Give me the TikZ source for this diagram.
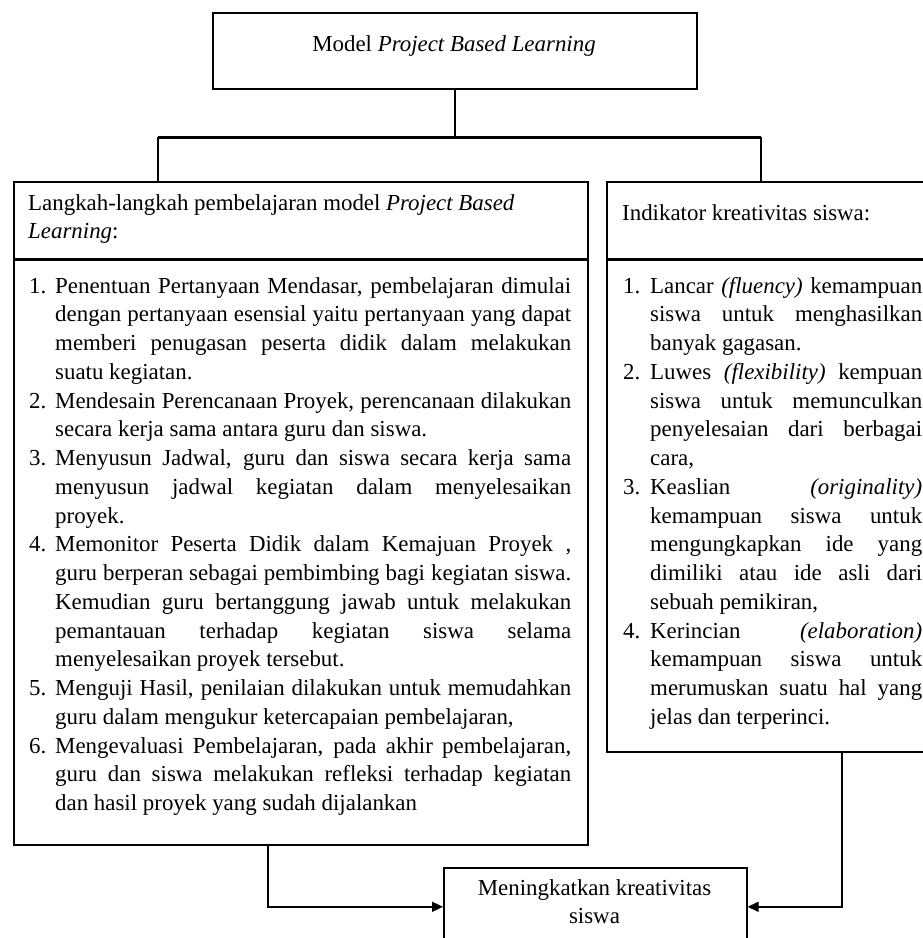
\documentclass[tikz,border=0pt]{standalone}
\usepackage{fontspec}
\setmainfont{Liberation Serif}
\usetikzlibrary{arrows.meta}
\newcommand\Lj[1]{\makebox[516pt][s]{#1}}
\newcommand\Ll[1]{\makebox[516pt][l]{#1}}
\newcommand\Ln[1]{\makebox[26pt][l]{#1}}
\newcommand\Li{\hspace*{26pt}}
\newcommand\Rj[1]{\makebox[272pt][s]{#1}}
\newcommand\Rl[1]{\makebox[272pt][l]{#1}}
\newcommand\Rn[1]{\makebox[27pt][l]{#1}}
\newcommand\Ri{\hspace*{27pt}}
\tikzset{
  box/.style={draw, line width=1.6pt, inner sep=0pt, anchor=north west},
  txt/.style={inner sep=0pt, font=\fontsize{22.9}{28.75}\selectfont},
  conn/.style={line width=1.6pt},
  thickconn/.style={line width=3pt},
  divider/.style={line width=3pt},
  arr/.style={line width=1.6pt, -{Triangle[length=11pt,width=10pt]}}
}
\begin{document}
\begin{tikzpicture}[x=1pt,y=-1pt]
\useasboundingbox (0,0) rectangle (923,938);
\fill[white] (0,0) rectangle (923,938);
\clip (0,0) rectangle (923,938);

% boxes
\node[box, minimum width=484pt, minimum height=76pt] (top) at (212,12) {};
\node[box, minimum width=574pt, minimum height=77pt] (lhead) at (13,181) {};
\node[box, minimum width=574pt, minimum height=586pt] (lbody) at (13,258) {};
\node[box, minimum width=330pt, minimum height=77pt] (rhead) at (606,181) {};
\node[box, minimum width=330pt, minimum height=493pt] (rbody) at (606,258) {};
\node[box, minimum width=303pt, minimum height=78pt] (goal) at (443,867) {};

\draw[divider] (lhead.south west) -- (lhead.south east);
\draw[divider] (rhead.south west) -- (rhead.south east);

% texts (multi-line nodes: base = baseline of the last line)
\node[txt, anchor=base] (toptxt) at (454,51) {Model \textit{Project Based Learning}};
\node[txt, anchor=base west, align=left] (lheadtxt) at (28,238.75)
  {Langkah-langkah pembelajaran model \textit{Project Based}\\ \textit{Learning}:};
\node[txt, anchor=base west] (rheadtxt) at (622,220) {Indikator kreativitas siswa:};

\node[txt, anchor=base west, align=left] (lbodytxt) at (29,810.5) {%
\Ln{1.}\Lj{Penentuan Pertanyaan Mendasar, pembelajaran dimulai}\\
\Li\Lj{dengan pertanyaan esensial yaitu pertanyaan yang dapat}\\
\Li\Lj{memberi penugasan peserta didik dalam melakukan}\\
\Li\Ll{suatu kegiatan.}\\
\Ln{2.}\Lj{Mendesain Perencanaan Proyek, perencanaan dilakukan}\\
\Li\Ll{secara kerja sama antara guru dan siswa.}\\
\Ln{3.}\Lj{Menyusun Jadwal, guru dan siswa secara kerja sama}\\
\Li\Lj{menyusun jadwal kegiatan dalam menyelesaikan}\\
\Li\Ll{proyek.}\\
\Ln{4.}\Lj{Memonitor Peserta Didik dalam Kemajuan Proyek ,}\\
\Li\Lj{guru berperan sebagai pembimbing bagi kegiatan siswa.}\\
\Li\Lj{Kemudian guru bertanggung jawab untuk melakukan}\\
\Li\Lj{pemantauan terhadap kegiatan siswa selama}\\
\Li\Ll{menyelesaikan proyek tersebut.}\\
\Ln{5.}\Lj{Menguji Hasil, penilaian dilakukan untuk memudahkan}\\
\Li\Ll{guru dalam mengukur ketercapaian pembelajaran,}\\
\Ln{6.}\Lj{Mengevaluasi Pembelajaran, pada akhir pembelajaran,}\\
\Li\Lj{guru dan siswa melakukan refleksi terhadap kegiatan}\\
\Li\Ll{dan hasil proyek yang sudah dijalankan}};

\node[txt, anchor=base west, align=left] (rbodytxt) at (623,724.25) {%
\Rn{1.}\Rj{Lancar \textit{(fluency)} kemampuan}\\
\Ri\Rj{siswa untuk menghasilkan}\\
\Ri\Rl{banyak gagasan.}\\
\Rn{2.}\Rj{Luwes \textit{(flexibility)} kempuan}\\
\Ri\Rj{siswa untuk memunculkan}\\
\Ri\Rj{penyelesaian dari berbagai}\\
\Ri\Rl{cara,}\\
\Rn{3.}\Rj{Keaslian \textit{(originality)}}\\
\Ri\Rj{kemampuan siswa untuk}\\
\Ri\Rj{mengungkapkan ide yang}\\
\Ri\Rj{dimiliki atau ide asli dari}\\
\Ri\Rl{sebuah pemikiran,}\\
\Rn{4.}\Rj{Kerincian \textit{(elaboration)}}\\
\Ri\Rj{kemampuan siswa untuk}\\
\Ri\Rj{merumuskan suatu hal yang}\\
\Ri\Rl{jelas dan terperinci.}};

\node[txt, anchor=base, align=center] (goaltxt) at (594.5,923.75) {Meningkatkan kreativitas\\siswa};

% connectors
\coordinate (hl) at (158,137);
\coordinate (hr) at (761,137);
\coordinate (la) at (268,0);
\coordinate (ra) at (842,0);
\draw[conn] (top.south) -- (top.south |- hl);
\draw[thickconn] (hl) -- (hr);
\draw[conn] (hl) -- (hl |- lhead.north);
\draw[conn] (hr) -- (hr |- rhead.north);
\draw[arr] (lbody.south -| la) |- (goal.west);
\draw[arr] (rbody.south -| ra) |- (goal.east);
\end{tikzpicture}
\end{document}
